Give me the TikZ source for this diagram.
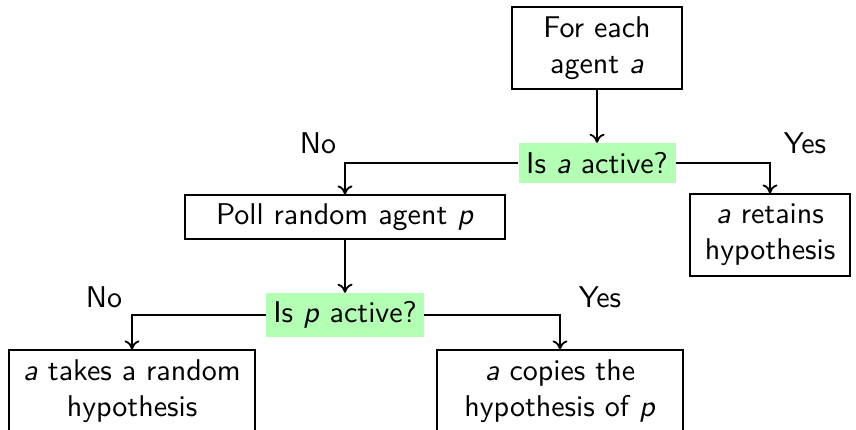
\documentclass[tikz,border=0pt]{standalone}
\usepackage{fontspec}
\usetikzlibrary{arrows.meta}
\newfontfamily\lmsten{lmsans10-regular.otf}[ItalicFont=lmsans10-oblique.otf]
\definecolor{decgreen}{RGB}{179,255,179}
\begin{document}
\begin{tikzpicture}[x=1pt,y=-1pt,
  every node/.style={font=\lmsten\fontsize{30}{36}\selectfont, align=center, inner sep=0pt},
  procbox/.style={draw, line width=1.1pt, minimum width=#1},
  decbox/.style={fill=decgreen, minimum width=#1, minimum height=40pt},
  conn/.style={line width=1.8pt, -{To[length=9pt,width=15pt]}},
  lbl/.style={}]
\useasboundingbox (0,0) rectangle (856,430);
\clip (0,0) rectangle (856,430);
\node[procbox=170pt, minimum height=82pt] (A) at (597,48) {For each\\agent \textit{a}};
\node[decbox=157pt] (D1) at (597,163) {Is \textit{a} active?};
\node[procbox=320pt, minimum height=44pt] (B) at (345,217) {Poll random agent \textit{p}};
\node[procbox=160pt, minimum height=82pt] (C) at (770,235) {\textit{a} retains\\hypothesis};
\node[decbox=158pt, minimum height=44pt] (D2) at (345,315) {Is \textit{p} active?};
\node[procbox=246pt, minimum height=82pt] (E) at (132,391) {\textit{a} takes a random\\hypothesis};
\node[procbox=246pt, minimum height=82pt] (F) at (560,391) {\textit{a} copies the\\hypothesis of \textit{p}};
\node[lbl] (no1) at (318,143) {No};
\node[lbl] (yes1) at (805,143) {Yes};
\node[lbl] (no2) at (104,297) {No};
\node[lbl] (yes2) at (600,297) {Yes};
\draw[conn] (A) -- (D1);
\draw[conn] (D1.west) -| (B.north);
\draw[conn] (D1.east) -| (C.north);
\draw[conn] (B) -- (D2);
\draw[conn] (D2.west) -| (E.north);
\draw[conn] (D2.east) -| (F.north);
\end{tikzpicture}
\end{document}
